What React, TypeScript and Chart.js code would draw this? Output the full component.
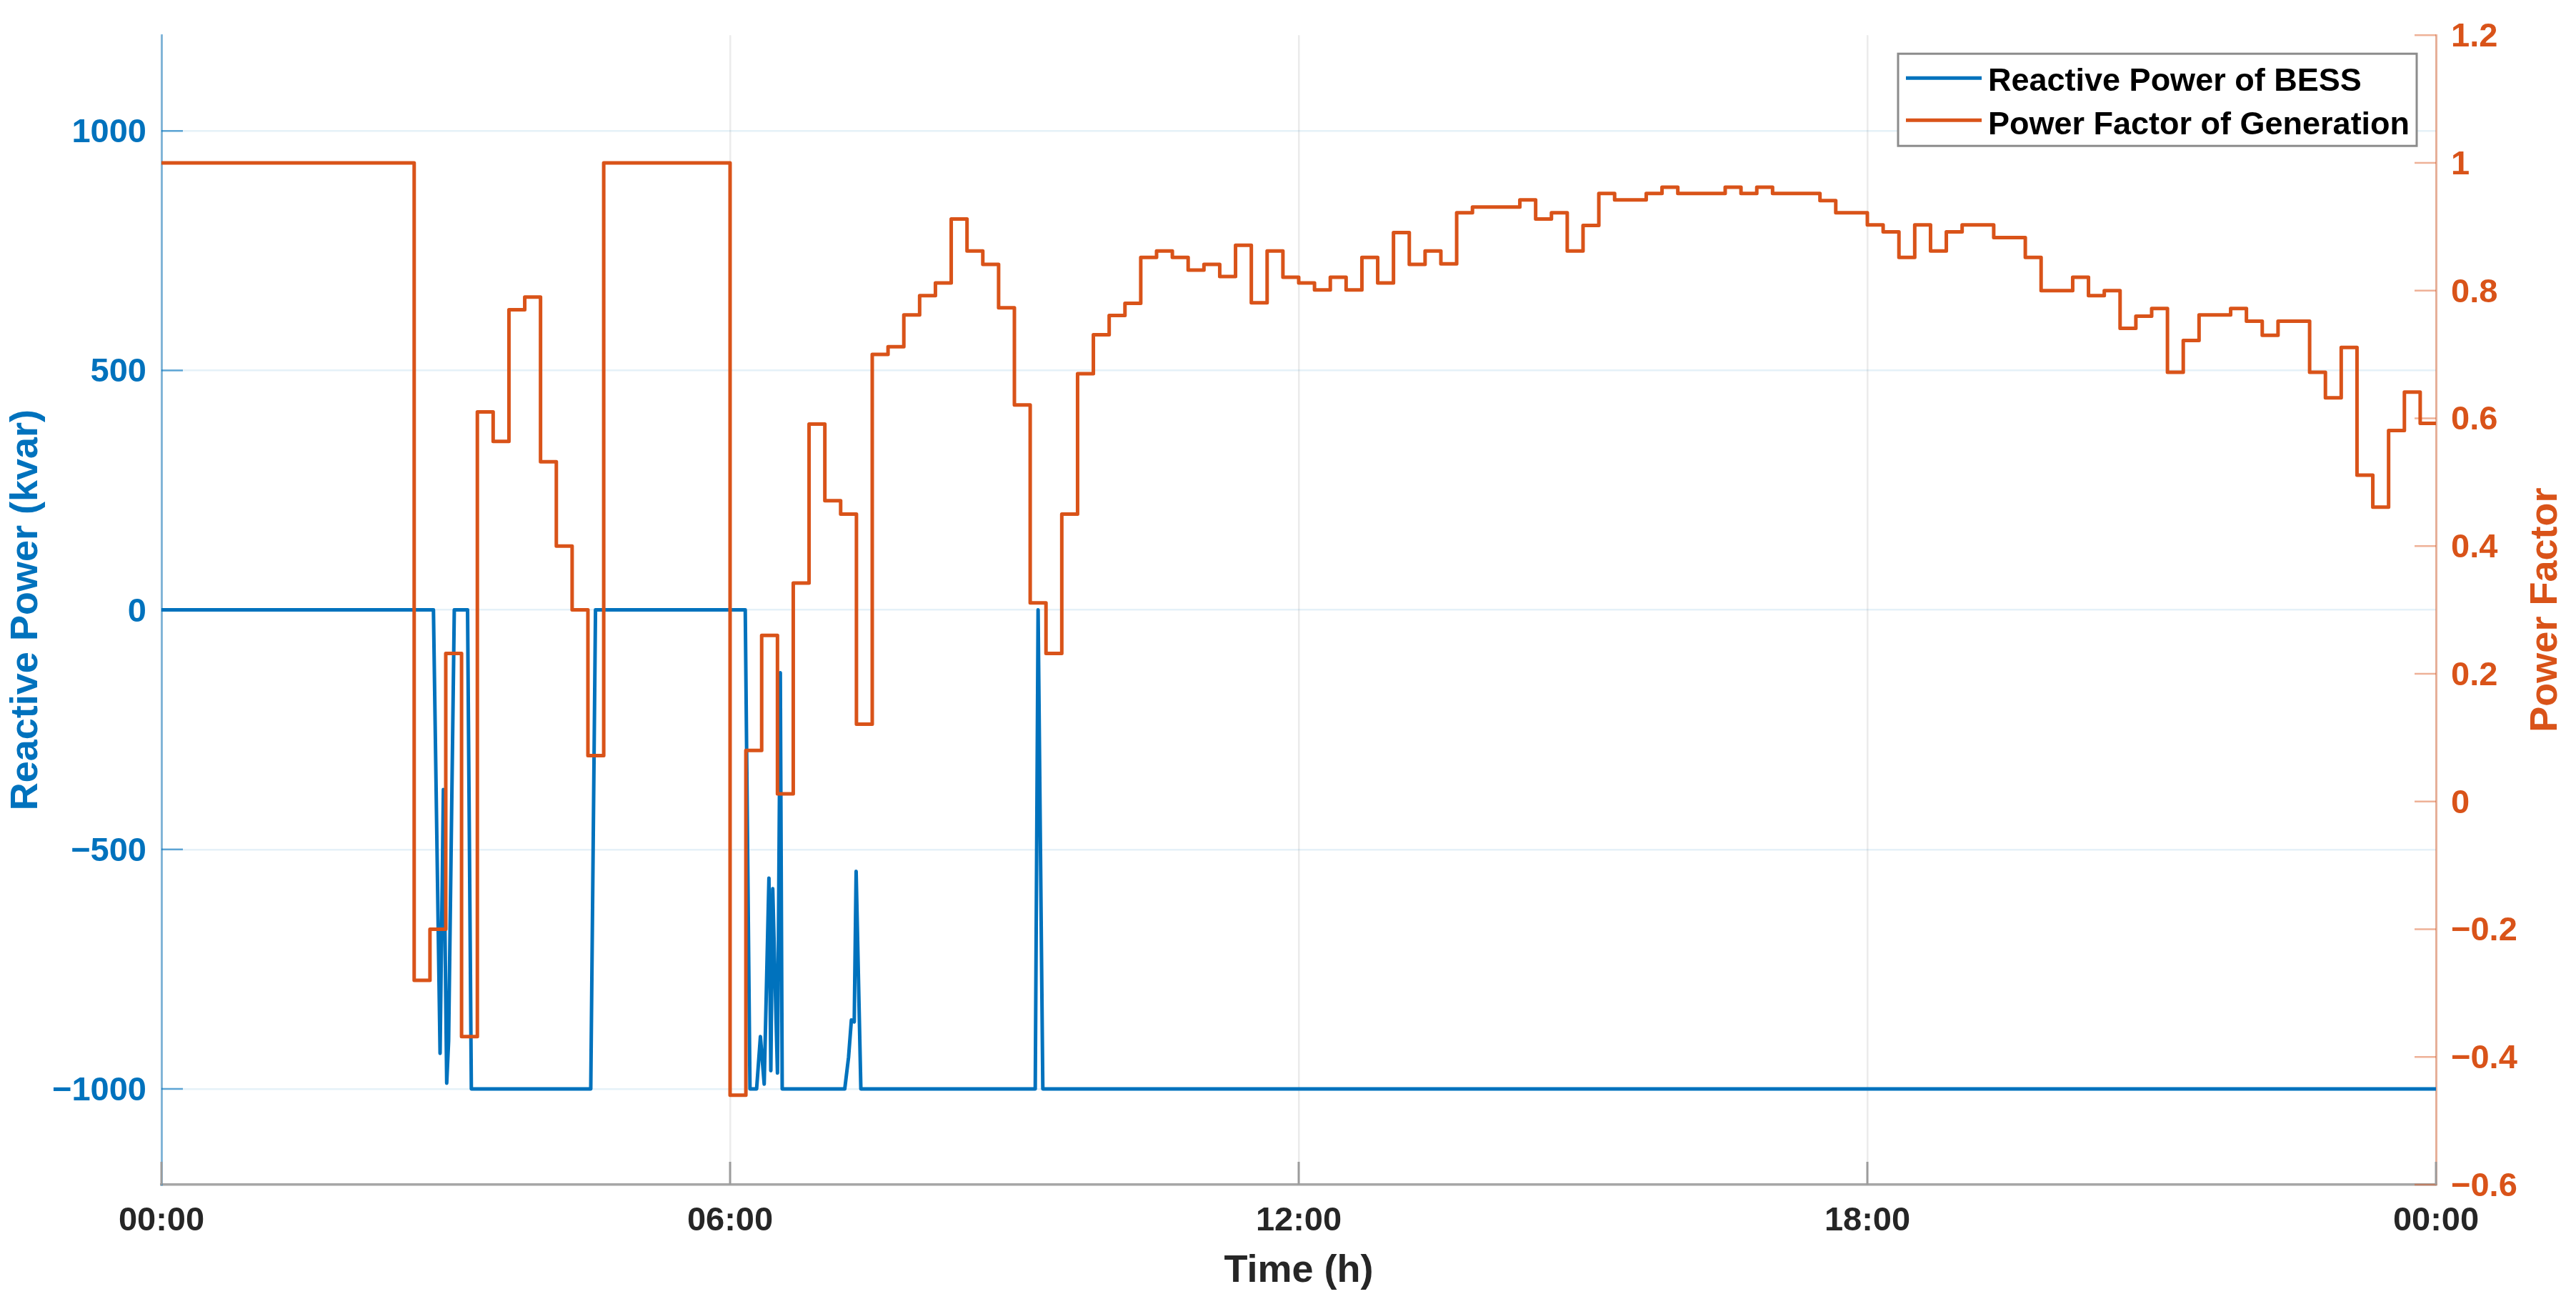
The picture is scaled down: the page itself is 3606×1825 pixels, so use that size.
import React, { useEffect, useRef } from 'react';
import { Chart, registerables } from 'chart.js';

Chart.register(...registerables);

// ---------------- Data ----------------
// Power factor of generation: one value per 10-minute interval (144 intervals, 00:00 -> 24:00)
const pfValues: number[] = [
  1.0, 1.0, 1.0, 1.0, 1.0, 1.0, 1.0, 1.0, 1.0, 1.0, 1.0, 1.0, 1.0, 1.0, 1.0, 1.0,
  -0.28, -0.2, 0.232, -0.368, 0.61, 0.564, 0.77, 0.79, 0.532, 0.4, 0.3, 0.072,
  1.0, 1.0, 1.0, 1.0, 1.0, 1.0, 1.0, 1.0,
  -0.46, 0.08, 0.26, 0.012, 0.342, 0.591, 0.471, 0.45, 0.121, 0.7, 0.712, 0.762,
  0.792, 0.812, 0.912, 0.862, 0.841, 0.773, 0.621, 0.311, 0.232, 0.45, 0.67, 0.731,
  0.761, 0.78, 0.852, 0.862, 0.852, 0.832, 0.841, 0.822, 0.871, 0.781, 0.862, 0.821,
  0.812, 0.801, 0.821, 0.801, 0.852, 0.812, 0.891, 0.841, 0.862, 0.842, 0.922, 0.931,
  0.931, 0.931, 0.942, 0.912, 0.922, 0.862, 0.902, 0.952, 0.942, 0.942, 0.952, 0.962,
  0.952, 0.952, 0.952, 0.962, 0.952, 0.962, 0.952, 0.952, 0.952, 0.941, 0.922, 0.922,
  0.903, 0.892, 0.852, 0.903, 0.862, 0.892, 0.903, 0.903, 0.883, 0.883, 0.852, 0.8,
  0.8, 0.821, 0.792, 0.8, 0.741, 0.76, 0.772, 0.672, 0.722, 0.762, 0.762, 0.772,
  0.752, 0.73, 0.752, 0.752, 0.672, 0.632, 0.711, 0.511, 0.461, 0.581, 0.641, 0.592,
];
const pfIntervalHours = 10 / 60;

// Reactive power of BESS (kvar): vertices (time in hours, value)
const bessTimes: number[] = [
  0, 2.87, 2.94, 2.975, 3.01, 3.03, 3.09, 3.23, 3.27, 4.53, 4.58, 6.16, 6.21, 6.28,
  6.32, 6.36, 6.41, 6.43, 6.45, 6.5, 6.53, 6.55, 7.21, 7.25, 7.28, 7.31, 7.33, 7.38,
  9.22, 9.25, 9.3, 24,
];
const bessValues: number[] = [
  0, 0, -926, -375, -988, -900, 0, 0, -1000, -1000, 0, 0, -1000, -1000,
  -891, -990, -560, -962, -582, -967, -131, -1000, -1000, -934, -856, -860, -546, -1000,
  -1000, 0, -1000, -1000,
];

const xTicks = [0, 6, 12, 18, 24];
const xTickLabels = ['00:00', '06:00', '12:00', '18:00', '00:00'];
const leftTicks = [-1000, -500, 0, 500, 1000];
const leftTickLabels = ['\u22121000', '\u2212500', '0', '500', '1000'];
const rightTicks = [-0.6, -0.4, -0.2, 0, 0.2, 0.4, 0.6, 0.8, 1, 1.2];
const rightTickLabels = ['\u22120.6', '\u22120.4', '\u22120.2', '0', '0.2', '0.4', '0.6', '0.8', '1', '1.2'];

const seriesNames = ['Reactive Power of BESS', 'Power Factor of Generation'];
const BLUE = '#0072BD';
const ORANGE = '#D95319';
const FONT = '"Liberation Sans", Arial, Helvetica, sans-serif';

// ---------------- Plugins ----------------
const decorPlugin = {
  id: 'matlabDecor',
  afterDatasetsDraw(chart: any) {
    const { ctx, chartArea: a, scales } = chart;
    ctx.save();
    // inner tick marks, left axis
    ctx.lineWidth = 2.5;
    ctx.strokeStyle = 'rgba(0,114,189,0.6)';
    leftTicks.forEach((v) => {
      const y = scales.y.getPixelForValue(v);
      ctx.beginPath();
      ctx.moveTo(a.left, y);
      ctx.lineTo(a.left + 30, y);
      ctx.stroke();
    });
    // inner tick marks, right axis
    ctx.strokeStyle = 'rgba(217,83,25,0.45)';
    rightTicks.forEach((v) => {
      const y = scales.y1.getPixelForValue(v);
      ctx.beginPath();
      ctx.moveTo(a.right - 30, y);
      ctx.lineTo(a.right, y);
      ctx.stroke();
    });
    // inner tick marks, bottom axis
    ctx.strokeStyle = '#9c9c9c';
    ctx.lineWidth = 3;
    xTicks.forEach((v) => {
      const x = scales.x.getPixelForValue(v);
      ctx.beginPath();
      ctx.moveTo(x, a.bottom - 32);
      ctx.lineTo(x, a.bottom);
      ctx.stroke();
    });

    // right axis title (reads bottom-to-top like MATLAB)
    ctx.fillStyle = ORANGE;
    ctx.font = `bold 54px ${FONT}`;
    ctx.textAlign = 'center';
    ctx.textBaseline = 'middle';
    ctx.translate(chart.width - 42, (a.top + a.bottom) / 2);
    ctx.rotate(-Math.PI / 2);
    ctx.fillText('Power Factor', 0, 0);
    ctx.restore();

    // legend
    ctx.save();
    const bx = a.right - 27 - 726;
    const by = a.top + 26;
    const bw = 726;
    const bh = 129;
    ctx.fillStyle = '#ffffff';
    ctx.fillRect(bx, by, bw, bh);
    ctx.strokeStyle = '#8c8c8c';
    ctx.lineWidth = 3;
    ctx.strokeRect(bx, by, bw, bh);
    const rows = [
      { color: BLUE, lineY: by + 34, textY: by + 52 },
      { color: ORANGE, lineY: by + 93, textY: by + 113 },
    ];
    ctx.font = `bold 45px ${FONT}`;
    ctx.textAlign = 'left';
    ctx.textBaseline = 'alphabetic';
    rows.forEach((r, i) => {
      ctx.strokeStyle = r.color;
      ctx.lineWidth = 5;
      ctx.beginPath();
      ctx.moveTo(bx + 11, r.lineY);
      ctx.lineTo(bx + 117, r.lineY);
      ctx.stroke();
      ctx.fillStyle = '#000000';
      ctx.fillText(seriesNames[i], bx + 126, r.textY);
    });
    ctx.restore();
  },
};

// ---------------- Component ----------------
export default function App() {
  const canvasRef = useRef<HTMLCanvasElement | null>(null);

  useEffect(() => {
    const canvas = canvasRef.current;
    if (!canvas) return;

    const pfPoints = pfValues.map((v, k) => ({ x: k * pfIntervalHours, y: v }));
    pfPoints.push({ x: 24, y: pfValues[pfValues.length - 1] });
    const bessPoints = bessTimes.map((t, i) => ({ x: t, y: bessValues[i] }));

    const chart = new Chart(canvas, {
      type: 'line',
      data: {
        datasets: [
          {
            label: seriesNames[1],
            data: pfPoints,
            yAxisID: 'y1',
            borderColor: ORANGE,
            backgroundColor: ORANGE,
            borderWidth: 5,
            pointRadius: 0,
            stepped: 'before',
            borderJoinStyle: 'round',
            order: 0,
          },
          {
            label: seriesNames[0],
            data: bessPoints,
            yAxisID: 'y',
            borderColor: BLUE,
            backgroundColor: BLUE,
            borderWidth: 5,
            pointRadius: 0,
            tension: 0,
            borderJoinStyle: 'round',
            order: 1,
          },
        ],
      },
      options: {
        responsive: false,
        animation: false,
        events: [],
        layout: { padding: { top: 28, left: 0, right: 0, bottom: 0 } },
        plugins: {
          legend: { display: false },
          tooltip: { enabled: false },
          title: { display: false },
        },
        scales: {
          x: {
            type: 'linear',
            position: 'bottom',
            min: 0,
            max: 24,
            afterBuildTicks: (scale: any) => {
              scale.ticks = xTicks.map((v) => ({ value: v }));
            },
            afterFit: (scale: any) => {
              scale.height = 167;
            },
            ticks: {
              autoSkip: false,
              maxRotation: 0,
              minRotation: 0,
              padding: 23,
              color: '#262626',
              font: { family: FONT, size: 47, weight: 'bold' },
              callback: (_v: any, i: number) => xTickLabels[i],
            },
            grid: {
              color: 'rgba(38,38,38,0.09)',
              lineWidth: 2.5,
              drawTicks: false,
            },
            border: { color: '#a6a6a6', width: 3.5 },
            title: {
              display: true,
              text: 'Time (h)',
              color: '#262626',
              font: { family: FONT, size: 54, weight: 'bold' },
              padding: { top: 0, bottom: 13 },
            },
          },
          y: {
            type: 'linear',
            position: 'left',
            min: -1200,
            max: 1200,
            afterBuildTicks: (scale: any) => {
              scale.ticks = leftTicks.map((v) => ({ value: v }));
            },
            afterFit: (scale: any) => {
              scale.width = 226;
            },
            ticks: {
              padding: 21,
              labelOffset: 3,
              color: BLUE,
              font: { family: FONT, size: 47, weight: 'bold' },
              callback: (_v: any, i: number) => leftTickLabels[i],
            },
            grid: {
              color: 'rgba(0,114,189,0.1)',
              lineWidth: 2.5,
              drawTicks: false,
            },
            border: { color: 'rgba(0,114,189,0.45)', width: 3 },
            title: {
              display: true,
              text: 'Reactive Power (kvar)',
              color: BLUE,
              font: { family: FONT, size: 54, weight: 'bold' },
              padding: { top: 5, bottom: 0 },
            },
          },
          y1: {
            type: 'linear',
            position: 'right',
            min: -0.6,
            max: 1.2,
            afterBuildTicks: (scale: any) => {
              scale.ticks = rightTicks.map((v) => ({ value: v }));
            },
            afterFit: (scale: any) => {
              scale.width = 196;
            },
            ticks: {
              padding: 21,
              labelOffset: 3,
              color: ORANGE,
              font: { family: FONT, size: 47, weight: 'bold' },
              callback: (_v: any, i: number) => rightTickLabels[i],
            },
            grid: { drawOnChartArea: false, drawTicks: false },
            border: { color: 'rgba(217,83,25,0.4)', width: 3 },
            title: { display: false },
          },
        },
      },
      plugins: [decorPlugin],
    } as any);

    return () => {
      chart.destroy();
    };
  }, []);

  return (
    <div style={{ position: 'absolute', left: 0, top: 0, width: 3606, height: 1825, background: '#ffffff' }}>
      <canvas ref={canvasRef} width={3606} height={1825} style={{ display: 'block', width: 3606, height: 1825 }} />
    </div>
  );
}
